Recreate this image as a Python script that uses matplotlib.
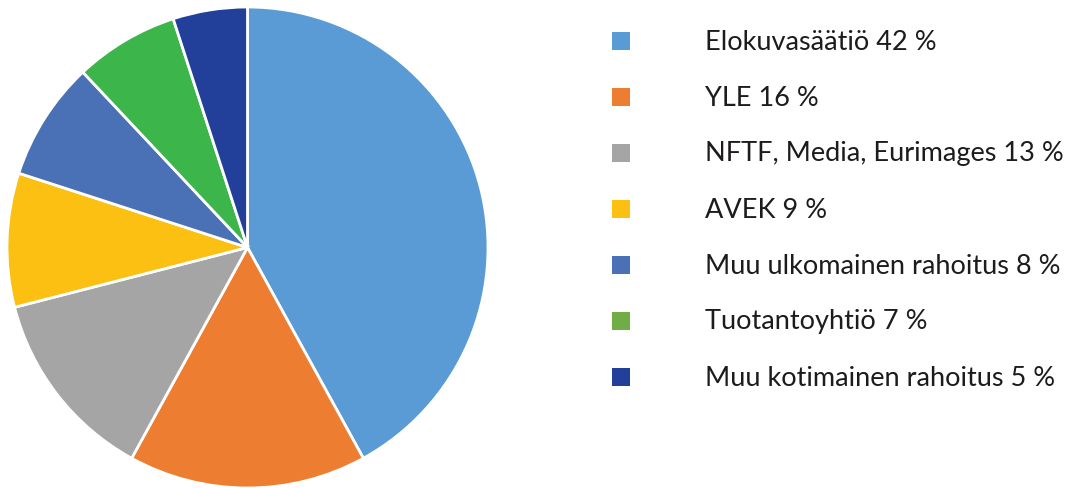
import matplotlib.pyplot as plt

# funding shares (%)
labels = ['Elokuvasäätiö 42 %', 'YLE 16 %', 'NFTF, Media, Eurimages 13 %', 'AVEK 9 %',
          'Muu ulkomainen rahoitus 8 %', 'Tuotantoyhtiö 7 %', 'Muu kotimainen rahoitus 5 %']
shares = [42, 16, 13, 9, 8, 7, 5]
pie_colors = ['#5B9BD5', '#ED7D31', '#A5A5A5', '#FBC012', '#4A70B5', '#3CB54A', '#22409A']
legend_colors = ['#5B9BD5', '#ED7D31', '#A5A5A5', '#FBC012', '#4A70B5', '#70AD47', '#22409A']

plt.rcParams['font.family'] = ['Lato', 'DejaVu Sans']

W, H = 1067, 489
fig = plt.figure(figsize=(W / 100, H / 100), dpi=100)

# pie
ax = fig.add_axes([7 / W, 0, 481 / W, 481 / H])
ax.pie(shares, colors=pie_colors, startangle=90, counterclock=False, radius=1,
       wedgeprops=dict(edgecolor='white', linewidth=2))
ax.set_xlim(-1, 1)
ax.set_ylim(-1, 1)
ax.set_aspect('equal')
ax.axis('off')

# legend drawn by hand
lax = fig.add_axes([0, 0, 1, 1])
lax.set_xlim(0, W)
lax.set_ylim(H, 0)
lax.axis('off')
rows = [42 + 56 * i for i in range(len(labels))]
lax.scatter([621] * len(rows), rows, marker='s', s=185, c=legend_colors, linewidths=0)
for y, lab in zip(rows, labels):
    lax.text(705, y, lab, fontsize=19.5, color='#1E1B1C', va='center', ha='left')

fig.savefig('out.png', dpi=100)
